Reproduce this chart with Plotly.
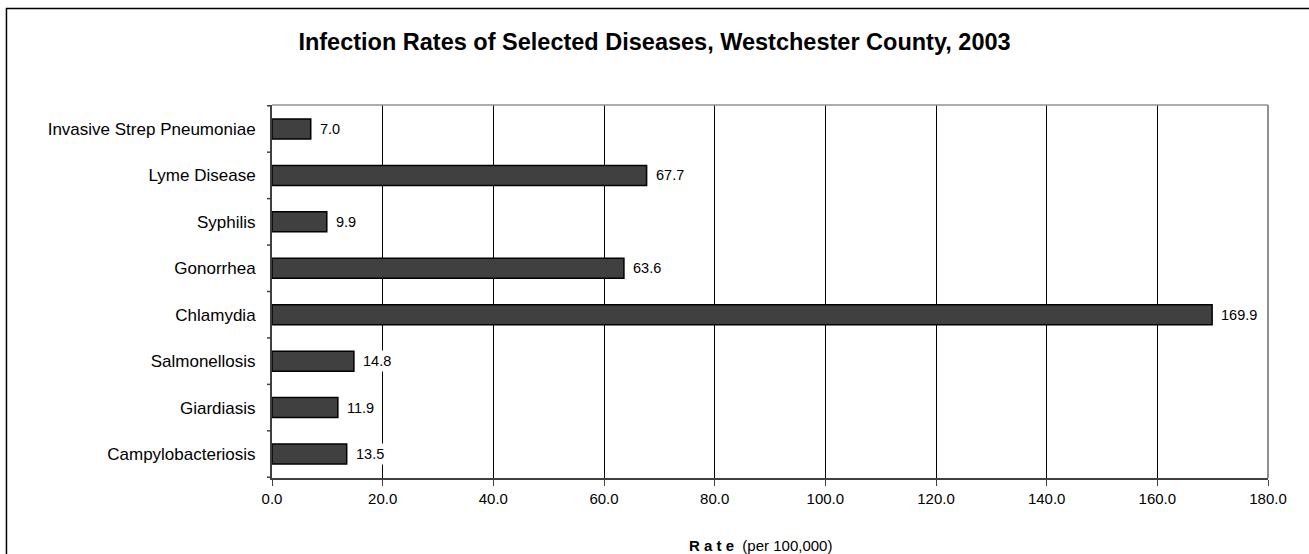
import plotly.graph_objects as go

# Categorías (de abajo hacia arriba) y sus tasas.
ENFERMEDADES = [
    "Campylobacteriosis",
    "Giardiasis",
    "Salmonellosis",
    "Chlamydia",
    "Gonorrhea",
    "Syphilis",
    "Lyme Disease",
    "Invasive Strep Pneumoniae",
]

TASAS = [13.5, 11.9, 14.8, 169.9, 63.6, 9.9, 67.7, 7.0]

TICKS_X = [0, 20, 40, 60, 80, 100, 120, 140, 160, 180]

FUENTE = "Liberation Sans, Arial, sans-serif"


def main():
    fig = go.Figure()

    fig.add_trace(
        go.Bar(
            y=ENFERMEDADES,
            x=TASAS,
            orientation="h",
            marker_color="#404040",
            marker_line_color="#000000",
            marker_line_width=1.5,
            width=0.43,
            hoverinfo="x+y",
        )
    )

    fig.update_xaxes(
        range=[0, 180],
        tickvals=TICKS_X,
        ticktext=[f"{v:.1f}" for v in TICKS_X],
        showgrid=True,
        gridcolor="#000000",
        gridwidth=1,
        showline=True,
        linecolor="#404040",
        linewidth=2,
        ticks="outside",
        ticklen=6,
        tickcolor="#404040",
        zeroline=False,
        tickfont_size=15,
    )

    fig.update_yaxes(
        showgrid=False,
        showline=True,
        linecolor="#404040",
        linewidth=2,
        ticks="",
        tickfont_size=17,
        ticklabelstandoff=11,
        zeroline=False,
    )

    formas = [
        # Líneas grises que cierran el área de trazado (derecha y arriba).
        dict(
            type="line",
            xref="paper",
            yref="paper",
            x0=1,
            x1=1,
            y0=0,
            y1=1,
            line_color="#909090",
            line_width=2,
        ),
        dict(
            type="line",
            xref="paper",
            yref="paper",
            x0=0,
            x1=1,
            y0=1,
            y1=1,
            line_color="#909090",
            line_width=1.5,
        ),
        # Marco que rodea toda la figura.
        dict(
            type="rect",
            xref="paper",
            yref="paper",
            x0=-0.2666,
            x1=1.05,
            y0=-0.25,
            y1=1.2587,
            line_color="#000000",
            line_width=1.5,
        ),
    ]

    # Marcas del eje vertical entre categorías.
    for i in range(len(ENFERMEDADES) + 1):
        formas.append(
            dict(
                type="line",
                xref="paper",
                yref="y",
                x0=-0.005,
                x1=0,
                y0=i - 0.5,
                y1=i - 0.5,
                line_color="#404040",
                line_width=1.5,
            )
        )

    # Etiquetas de valor con fondo blanco, que tapan la cuadrícula.
    etiquetas = [
        dict(
            x=valor,
            y=nombre,
            xref="x",
            yref="y",
            xanchor="left",
            yanchor="middle",
            xshift=6,
            showarrow=False,
            text=f"{valor:.1f}",
            font_size=14.5,
            bgcolor="#FFFFFF",
            borderpad=2,
        )
        for nombre, valor in zip(ENFERMEDADES, TASAS)
    ]

    etiquetas.append(
        dict(
            x=0.49,
            y=-0.18,
            xref="paper",
            yref="paper",
            xanchor="center",
            yanchor="middle",
            showarrow=False,
            text="<b>R a t e</b>  (per 100,000)",
            font_size=15,
        )
    )

    fig.update_layout(
        width=1309,
        height=554,
        font_family=FUENTE,
        font_color="#000000",
        plot_bgcolor="#FFFFFF",
        paper_bgcolor="#FFFFFF",
        showlegend=False,
        title_text="<b>Infection Rates of Selected Diseases, Westchester County, 2003</b>",
        title_font_size=23.5,
        title_x=0.5,
        title_xanchor="center",
        title_y=0.924,
        title_yanchor="middle",
        margin_l=272,
        margin_r=41,
        margin_t=105,
        margin_b=76,
        shapes=formas,
        annotations=etiquetas,
    )

    # Quitamos el margen del body para que la figura empiece en (0, 0).
    fig.write_html(
        "out.html",
        config={"displayModeBar": False},
        post_script="document.body.style.margin='0';",
    )


if __name__ == "__main__":
    main()
